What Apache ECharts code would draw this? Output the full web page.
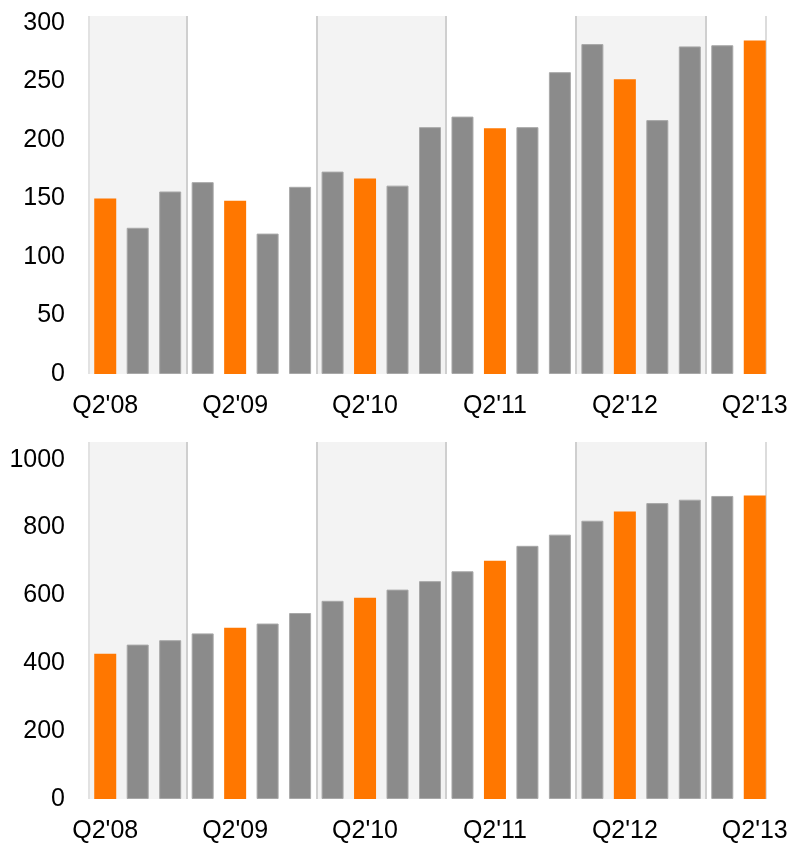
<!DOCTYPE html>
<html>
<head>
<meta charset="utf-8">
<script src="https://cdn.jsdelivr.net/npm/echarts@6/dist/echarts.min.js"></script>
<style>
html,body{margin:0;padding:0;background:#fff;}
#chart{width:792px;height:845px;}
</style>
</head>
<body>
<div id="chart"></div>
<script>
// ---- data ----
var categories = ["Q2'08","Q3'08","Q4'08","Q1'09","Q2'09","Q3'09","Q4'09","Q1'10","Q2'10","Q3'10","Q4'10",
                  "Q1'11","Q2'11","Q3'11","Q4'11","Q1'12","Q2'12","Q3'12","Q4'12","Q1'13","Q2'13"];
var topValues = [150,125,156,164,148,120,160,173,167,161,211,220,210,211,258,282,252,217,280,281,285];
var bottomValues = [428,455,468,488,505,517,548,584,593,617,642,671,702,746,779,820,847,872,882,893,894];
var topTicks = [0,50,100,150,200,250,300];
var bottomTicks = [0,200,400,600,800,1000];

// ---- styling ----
var ORANGE = '#ff7700', GREY = '#8b8b8b', SHADE = '#f3f3f3', SEP = '#cfcfcf';
var FONT = "'Liberation Sans', Arial, sans-serif";
var GRID_LEFT = 89, GRID_WIDTH = 682;
var RIGHT_EDGE = 20.34; // plot border position in category-index units

// year bands derived from the categories
function yearOf(c){ return c.split("'")[1]; }
var bands = [];
categories.forEach(function(c, i){
  var y = yearOf(c);
  if (!bands.length || bands[bands.length-1].year !== y) bands.push({year:y, start:i, end:i});
  else bands[bands.length-1].end = i;
});
var shadedAreas = [];
bands.forEach(function(b, k){
  if (k % 2 === 0) shadedAreas.push([{xAxis: b.start - 0.5}, {xAxis: Math.min(b.end + 0.5, RIGHT_EDGE)}]);
});
var sepLines = [];
bands.forEach(function(b, k){ if (k > 0) sepLines.push({xAxis: b.start - 0.5}); });
sepLines.push({xAxis: -0.5, lineStyle:{color:'#e2e2e2'}});
sepLines.push({xAxis: RIGHT_EDGE, lineStyle:{color:'#dcdcdc'}});

function barData(vals){
  return vals.map(function(v, i){
    var q2 = categories[i].indexOf('Q2') === 0;
    return {value: v, itemStyle: q2 ? {color: ORANGE, borderWidth: 0}
                                     : {color: GREY, borderColor: '#a8a8a8', borderWidth: 1}};
  });
}

function makeYAxis(grid, ticks){
  var interval = ticks[1] - ticks[0];
  return {
    type:'value', gridIndex: grid, min: 0, max: grid === 0 ? 306 : 1052, interval: interval,
    axisLine:{show:false}, axisTick:{show:false}, splitLine:{show:false},
    axisLabel:{show:true, color:'#000', fontFamily: FONT, fontSize: 25, margin: 24, showMaxLabel: false,
      padding: [5, 0, 0, 0],
      formatter: function(v){ return ticks.indexOf(v) >= 0 ? String(v) : ''; }}
  };
}
function makeCatAxis(grid){
  return {
    type:'category', gridIndex: grid, data: categories, boundaryGap: true,
    axisLine:{show:false}, axisTick:{show:false}, splitLine:{show:false},
    axisLabel:{interval: 3, color:'#000', fontFamily: FONT, fontSize: 25, margin: 20}
  };
}
function makeValX(grid){
  return {type:'value', gridIndex: grid, min:-0.5, max: categories.length - 0.5, show:false};
}
function decoSeries(xi, yi){
  return {
    type:'scatter', xAxisIndex: xi, yAxisIndex: yi, data: [[0,0]], symbolSize: 0, silent: true, z: 0,
    markArea:{silent:true, z:0, itemStyle:{color: SHADE}, data: shadedAreas},
    markLine:{silent:true, z:1, symbol:'none', label:{show:false},
      lineStyle:{color: SEP, width: 2, type:'solid'}, data: sepLines}
  };
}

var option = {
  animation: false,
  backgroundColor: '#fff',
  grid: [
    {left: GRID_LEFT, top: 16, width: GRID_WIDTH, height: 358},
    {left: GRID_LEFT, top: 442, width: GRID_WIDTH, height: 357}
  ],
  xAxis: [makeCatAxis(0), makeCatAxis(1), makeValX(0), makeValX(1)],
  yAxis: [makeYAxis(0, topTicks), makeYAxis(1, bottomTicks)],
  series: [
    decoSeries(2, 0),
    decoSeries(3, 1),
    {type:'bar', xAxisIndex:0, yAxisIndex:0, barWidth: 22, z: 3, data: barData(topValues)},
    {type:'bar', xAxisIndex:1, yAxisIndex:1, barWidth: 22, z: 3, data: barData(bottomValues)}
  ]
};
var chart = echarts.init(document.getElementById('chart'), null, {renderer:'canvas'});
chart.setOption(option);
</script>
</body>
</html>
